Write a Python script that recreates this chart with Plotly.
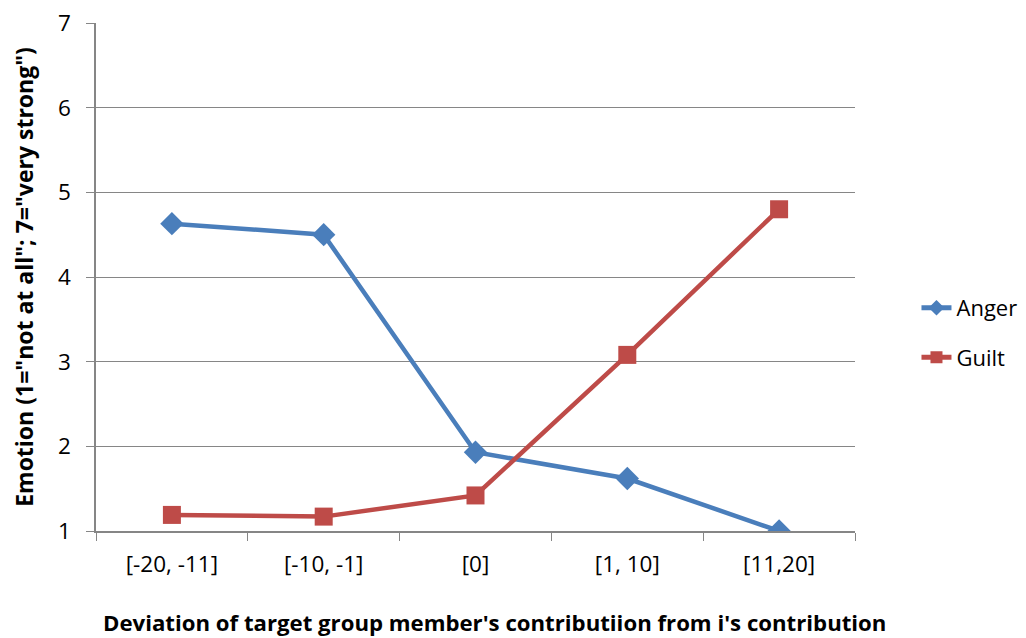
import plotly.graph_objects as go

categories = ["[-20, -11]", "[-10, -1]", "[0]", "[1, 10]", "[11,20]"]
anger = [4.63, 4.50, 1.93, 1.62, 1.00]
guilt = [1.19, 1.17, 1.42, 3.08, 4.80]

FONT = "Open Sans"
fig = go.Figure()
fig.add_trace(go.Scatter(x=categories, y=anger, name="Anger", mode="lines+markers",
                         legendgroup="a",
                         line=dict(color="#4A7EBB", width=4.5),
                         marker=dict(symbol="diamond", size=18, color="#4A7EBB")))
fig.add_trace(go.Scatter(x=categories, y=guilt, name="Guilt", mode="lines+markers",
                         legendgroup="g",
                         line=dict(color="#BE4B48", width=4.5),
                         marker=dict(symbol="square", size=18, color="#BE4B48")))

fig.add_annotation(text="<b>Deviation of target group member's contributiion from i's contribution</b>",
                   xref="paper", yref="paper", x=0.525, y=0, xanchor="center", yanchor="middle",
                   yshift=-91, showarrow=False, font=dict(size=22.2, family=FONT, color="black"))

fig.update_layout(
    width=1026, height=638,
    margin=dict(l=88, r=176, t=15, b=115),
    paper_bgcolor="white", plot_bgcolor="white",
    font=dict(family=FONT, size=22, color="black"),
    showlegend=True,
    legend=dict(x=1.081, y=0.39, xanchor="left", yanchor="middle",
                font=dict(size=22), tracegroupgap=18, itemsizing="constant"),
    xaxis=dict(type="category", range=[-0.5, 4.5], tickson="boundaries",
               ticks="outside", ticklen=8, tickcolor="#868686",
               showline=True, linecolor="#868686", linewidth=1.5,
               showgrid=False, zeroline=False, automargin=False,
               tickfont=dict(size=22.5), ticklabelstandoff=12,
               ticklabeloverflow="allow"),
    yaxis=dict(range=[1, 7], dtick=1, tick0=1,
               ticks="outside", ticklen=8, tickcolor="#868686",
               showline=True, linecolor="#868686", linewidth=1.5,
               showgrid=True, gridcolor="#868686", gridwidth=1.2,
               zeroline=False, automargin=False, tickfont=dict(size=22.5),
               ticklabelstandoff=11, ticklabeloverflow="allow",
               title=dict(text="<b>Emotion (1=\"not at all\"; 7=\"very strong\")</b>",
                          font=dict(size=23), standoff=20)),
)
fig.write_html("out.html", config={"displayModeBar": False})
